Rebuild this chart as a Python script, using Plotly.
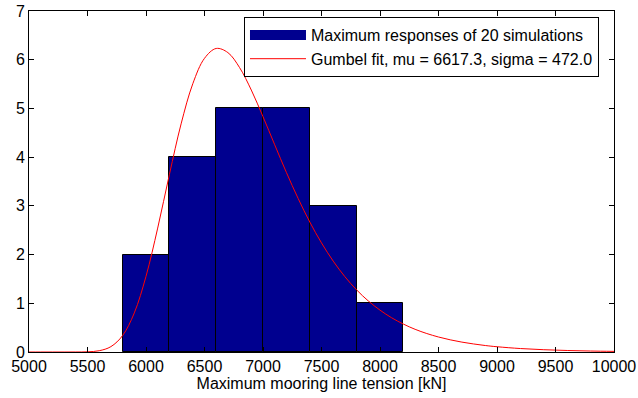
import plotly.graph_objects as go

# Histogram data
bin_centers = [6000, 6400, 6800, 7200, 7600, 8000]
counts = [2, 4, 5, 5, 3, 1]
bin_width = 400

# Gumbel fit curve
fit_x = [5000, 5100, 5200, 5300, 5400, 5500, 5600, 5700, 5800, 5900,
         6000, 6100, 6200, 6300, 6400, 6500, 6600, 6700, 6800, 6900,
         7000, 7100, 7200, 7300, 7400, 7500, 7600, 7700, 7800, 7900,
         8000, 8100, 8200, 8300, 8400, 8500, 8600, 8700, 8800, 8900,
         9000, 9200, 9400, 9600, 9800, 10000]
fit_y = [0.0, 0.0, 0.0, 0.0, 0.0004, 0.004, 0.026, 0.11, 0.337, 0.802,
         1.553, 2.544, 3.644, 4.683, 5.507, 6.029, 6.231, 6.146, 5.838, 5.377,
         4.831, 4.254, 3.686, 3.153, 2.668, 2.239, 1.866, 1.546, 1.275, 1.048,
         0.859, 0.702, 0.573, 0.466, 0.379, 0.308, 0.250, 0.203, 0.165, 0.133,
         0.108, 0.071, 0.047, 0.031, 0.020, 0.013]

x_ticks = [5000, 5500, 6000, 6500, 7000, 7500, 8000, 8500, 9000, 9500, 10000]
y_ticks = [0, 1, 2, 3, 4, 5, 6, 7]

FONT = "Liberation Sans, Arial, Helvetica, sans-serif"
BAR_COLOR = "#00008F"
FS = 16

fig = go.Figure()
fig.add_trace(go.Bar(
    x=bin_centers, y=counts, width=[bin_width] * len(counts),
    marker=dict(color=BAR_COLOR, line=dict(color="black", width=1)),
    name="Maximum responses of 20 simulations", showlegend=False,
))
# legend proxy for the histogram (wide filled patch like the reference)
fig.add_trace(go.Scatter(
    x=[None], y=[None], mode="lines",
    line=dict(color=BAR_COLOR, width=16),
    name="Maximum responses of 20 simulations", legendgroup="a",
))
fig.add_trace(go.Scatter(
    x=fit_x, y=fit_y, mode="lines", line=dict(color="red", width=1, shape="spline"),
    name="Gumbel fit, mu = 6617.3, sigma = 472.0", legendgroup="b",
))

axis_common = dict(
    showline=True, linecolor="black", linewidth=1, mirror="ticks",
    ticks="inside", ticklen=5, tickcolor="black", tickwidth=1,
    showgrid=False, zeroline=False, automargin=False,
    tickfont=dict(family=FONT, size=FS, color="black"),
)

fig.update_layout(
    width=638, height=398,
    margin=dict(l=29, r=24, t=11, b=46),
    paper_bgcolor="white", plot_bgcolor="white",
    font=dict(family=FONT, size=FS, color="black"),
    bargap=0,
    xaxis=dict(range=[5000, 10000], tickvals=x_ticks,
               ticktext=[str(v) for v in x_ticks],
               title=dict(text="Maximum mooring line tension [kN]", standoff=0,
                          font=dict(family=FONT, size=FS)),
               **axis_common),
    yaxis=dict(range=[0, 7], tickvals=y_ticks, **axis_common),
    legend=dict(x=0.3675, y=0.9824, xanchor="left", yanchor="top",
                bgcolor="white", bordercolor="black", borderwidth=1,
                font=dict(family=FONT, size=FS),
                traceorder="grouped", tracegroupgap=0, itemwidth=56),
    showlegend=True,
)

fig.write_html("out.html",
               config={"displayModeBar": False},
               post_script="document.body.style.margin='0px';document.body.style.overflow='hidden';")
